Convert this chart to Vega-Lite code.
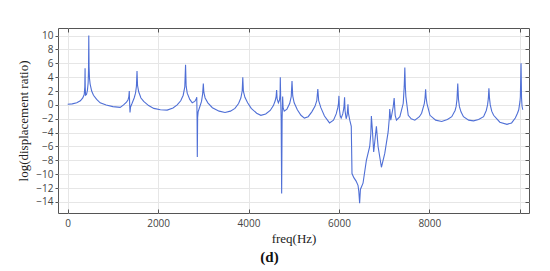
{
  "$schema": "https://vega.github.io/schema/vega-lite/v6.json",
  "autosize": {"type": "none"},
  "padding": {"left": 58, "top": 28, "right": 21, "bottom": 58},
  "width": 471,
  "height": 185,
  "background": "white",
  "config": {
    "view": {"stroke": "#555", "strokeWidth": 1},
    "axis": {"labelFont": "Open Sans", "labelFontSize": 10, "labelColor": "#444", "titleFont": "Liberation Serif", "titleFontSize": 13, "titleFontWeight": "normal", "titleColor": "#222", "domain": false, "tickColor": "#555", "gridColor": "#e6e6e6"}
  },
  "title": {"text": "(d)", "orient": "bottom", "font": "Liberation Serif", "fontSize": 15, "fontWeight": "bold", "color": "#111", "anchor": "middle", "dx": -24, "offset": 5},
  "data": {"values": [
    {"f":0,"v":0.1},{"f":100,"v":0.15},{"f":200,"v":0.3},{"f":280,"v":0.6},{"f":333,"v":1.0},{"f":365,"v":1.5},{"f":378,"v":2.6},{"f":384,"v":5.3},{"f":388,"v":2.5},{"f":395,"v":1.4},{"f":415,"v":1.5},{"f":436,"v":2.1},{"f":452,"v":3.2},{"f":460,"v":5.0},{"f":466,"v":10.0},{"f":472,"v":5.5},{"f":482,"v":3.8},{"f":496,"v":3.0},{"f":530,"v":2.0},{"f":570,"v":1.4},{"f":640,"v":0.8},{"f":718,"v":0.3},{"f":850,"v":0.0},{"f":1000,"v":-0.25},{"f":1160,"v":-0.35},{"f":1236,"v":0.0},{"f":1300,"v":0.4},{"f":1333,"v":0.7},{"f":1352,"v":1.2},{"f":1362,"v":2.0},{"f":1370,"v":0.2},{"f":1378,"v":-1.1},{"f":1390,"v":-0.3},{"f":1422,"v":0.2},{"f":1470,"v":1.0},{"f":1500,"v":1.7},{"f":1520,"v":2.7},{"f":1533,"v":4.9},{"f":1545,"v":2.8},{"f":1570,"v":1.9},{"f":1620,"v":1.0},{"f":1681,"v":0.5},{"f":1790,"v":-0.1},{"f":1904,"v":-0.5},{"f":2050,"v":-0.7},{"f":2200,"v":-0.75},{"f":2330,"v":-0.45},{"f":2422,"v":0.0},{"f":2500,"v":0.6},{"f":2555,"v":1.4},{"f":2590,"v":2.6},{"f":2607,"v":5.8},{"f":2620,"v":2.7},{"f":2644,"v":1.7},{"f":2700,"v":0.8},{"f":2755,"v":0.3},{"f":2810,"v":0.5},{"f":2840,"v":0.8},{"f":2855,"v":1.1},{"f":2862,"v":-2},{"f":2867,"v":-7.5},{"f":2874,"v":-1.8},{"f":2885,"v":-1.0},{"f":2920,"v":-0.3},{"f":2960,"v":0.5},{"f":2985,"v":1.6},{"f":3000,"v":3.1},{"f":3012,"v":1.8},{"f":3040,"v":1.0},{"f":3100,"v":0.3},{"f":3200,"v":-0.4},{"f":3350,"v":-0.9},{"f":3480,"v":-1.1},{"f":3600,"v":-0.9},{"f":3700,"v":-0.5},{"f":3780,"v":0.2},{"f":3830,"v":1.0},{"f":3860,"v":2.0},{"f":3873,"v":4.0},{"f":3886,"v":2.0},{"f":3920,"v":1.1},{"f":3980,"v":0.3},{"f":4060,"v":-0.5},{"f":4180,"v":-1.2},{"f":4273,"v":-1.5},{"f":4380,"v":-1.3},{"f":4480,"v":-0.8},{"f":4550,"v":-0.1},{"f":4590,"v":0.6},{"f":4610,"v":1.2},{"f":4622,"v":2.15},{"f":4632,"v":0.9},{"f":4660,"v":0.3},{"f":4685,"v":0.7},{"f":4698,"v":1.5},{"f":4703,"v":4.0},{"f":4712,"v":0.8},{"f":4722,"v":-2},{"f":4733,"v":-12.8},{"f":4743,"v":-2},{"f":4755,"v":1.2},{"f":4765,"v":-0.4},{"f":4790,"v":-0.9},{"f":4850,"v":-0.6},{"f":4910,"v":0.2},{"f":4945,"v":1.2},{"f":4962,"v":3.45},{"f":4978,"v":1.3},{"f":5010,"v":0.3},{"f":5080,"v":-0.7},{"f":5160,"v":-1.5},{"f":5236,"v":-1.9},{"f":5320,"v":-1.7},{"f":5400,"v":-1.0},{"f":5470,"v":-0.2},{"f":5510,"v":0.6},{"f":5533,"v":2.3},{"f":5552,"v":0.6},{"f":5600,"v":-0.4},{"f":5680,"v":-1.6},{"f":5792,"v":-2.6},{"f":5880,"v":-2.2},{"f":5940,"v":-1.3},{"f":5975,"v":-0.4},{"f":5990,"v":0.2},{"f":6000,"v":1.3},{"f":6010,"v":-0.6},{"f":6030,"v":-1.6},{"f":6050,"v":-1.9},{"f":6085,"v":-1.3},{"f":6110,"v":-0.4},{"f":6125,"v":1.1},{"f":6135,"v":-0.8},{"f":6160,"v":-2.0},{"f":6180,"v":-1.5},{"f":6193,"v":-0.6},{"f":6200,"v":0.1},{"f":6210,"v":-1.2},{"f":6240,"v":-2.2},{"f":6273,"v":-3.1},{"f":6280,"v":-6.0},{"f":6289,"v":-9.9},{"f":6330,"v":-10.5},{"f":6380,"v":-11.0},{"f":6422,"v":-11.6},{"f":6440,"v":-12.5},{"f":6458,"v":-14.2},{"f":6475,"v":-12.2},{"f":6533,"v":-11.3},{"f":6607,"v":-8.0},{"f":6681,"v":-6.0},{"f":6705,"v":-4.2},{"f":6718,"v":-1.6},{"f":6740,"v":-3.6},{"f":6769,"v":-6.8},{"f":6829,"v":-3.1},{"f":6866,"v":-6.0},{"f":6940,"v":-9.0},{"f":7014,"v":-7.0},{"f":7089,"v":-3.9},{"f":7115,"v":-1.9},{"f":7124,"v":-0.6},{"f":7147,"v":-2.2},{"f":7200,"v":-0.3},{"f":7222,"v":1.0},{"f":7245,"v":-1.5},{"f":7273,"v":-2.2},{"f":7348,"v":-1.7},{"f":7422,"v":0.2},{"f":7444,"v":2.6},{"f":7458,"v":5.4},{"f":7470,"v":2.5},{"f":7481,"v":1.2},{"f":7533,"v":-1.5},{"f":7600,"v":-2.0},{"f":7680,"v":-2.2},{"f":7780,"v":-1.7},{"f":7829,"v":-1.2},{"f":7889,"v":0.2},{"f":7905,"v":1.0},{"f":7918,"v":2.25},{"f":7930,"v":1.0},{"f":7948,"v":0.2},{"f":8014,"v":-1.5},{"f":8140,"v":-2.2},{"f":8273,"v":-2.4},{"f":8400,"v":-2.1},{"f":8496,"v":-1.7},{"f":8570,"v":-0.8},{"f":8592,"v":-0.25},{"f":8612,"v":0.8},{"f":8629,"v":3.1},{"f":8645,"v":0.8},{"f":8666,"v":-0.25},{"f":8700,"v":-1.0},{"f":8755,"v":-1.7},{"f":8870,"v":-2.2},{"f":8978,"v":-2.3},{"f":9090,"v":-2.1},{"f":9200,"v":-1.7},{"f":9260,"v":-0.8},{"f":9288,"v":0},{"f":9305,"v":0.9},{"f":9318,"v":2.4},{"f":9332,"v":0.9},{"f":9348,"v":0},{"f":9380,"v":-0.9},{"f":9422,"v":-1.5},{"f":9560,"v":-2.5},{"f":9718,"v":-2.8},{"f":9820,"v":-2.6},{"f":9902,"v":-1.9},{"f":9950,"v":-1.2},{"f":9978,"v":-0.7},{"f":10005,"v":0.5},{"f":10014,"v":1.2},{"f":10029,"v":6.0},{"f":10040,"v":1.0},{"f":10051,"v":-0.2},{"f":10067,"v":-0.7}
  ]},
  "resolve": {"axis": {"x": "independent", "y": "independent"}},
  "layer": [
    {
      "mark": {"type": "line", "color": "#4f6fd6", "strokeWidth": 1.1, "clip": true},
      "encoding": {
        "x": {"field": "f", "type": "quantitative", "scale": {"domain": [-215, 10205], "nice": false, "zero": false},
              "axis": {"title": "freq(Hz)", "values": [0, 2000, 4000, 6000, 8000, 10000], "labelExpr": "datum.value == 10000 ? '' : datum.value", "tickSize": -4, "labelPadding": 9, "titlePadding": 4, "grid": true}},
        "y": {"field": "v", "type": "quantitative", "scale": {"domain": [-15.6, 11.1], "nice": false, "zero": false},
              "axis": {"title": "log(displacement ratio)", "values": [-14, -12, -10, -8, -6, -4, -2, 0, 2, 4, 6, 8, 10], "tickSize": 3, "labelPadding": 2, "titlePadding": 5, "grid": true}}
      }
    },
    {
      "mark": {"type": "line", "strokeOpacity": 0},
      "encoding": {
        "x": {"field": "f", "type": "quantitative", "axis": {"orient": "top", "title": null, "labels": false, "values": [0, 2000, 4000, 6000, 8000, 10000], "tickSize": -4, "grid": false}},
        "y": {"field": "v", "type": "quantitative", "axis": {"orient": "right", "title": null, "labels": false, "values": [-14, -12, -10, -8, -6, -4, -2, 0, 2, 4, 6, 8, 10], "tickSize": -4, "grid": false}}
      }
    }
  ]
}
